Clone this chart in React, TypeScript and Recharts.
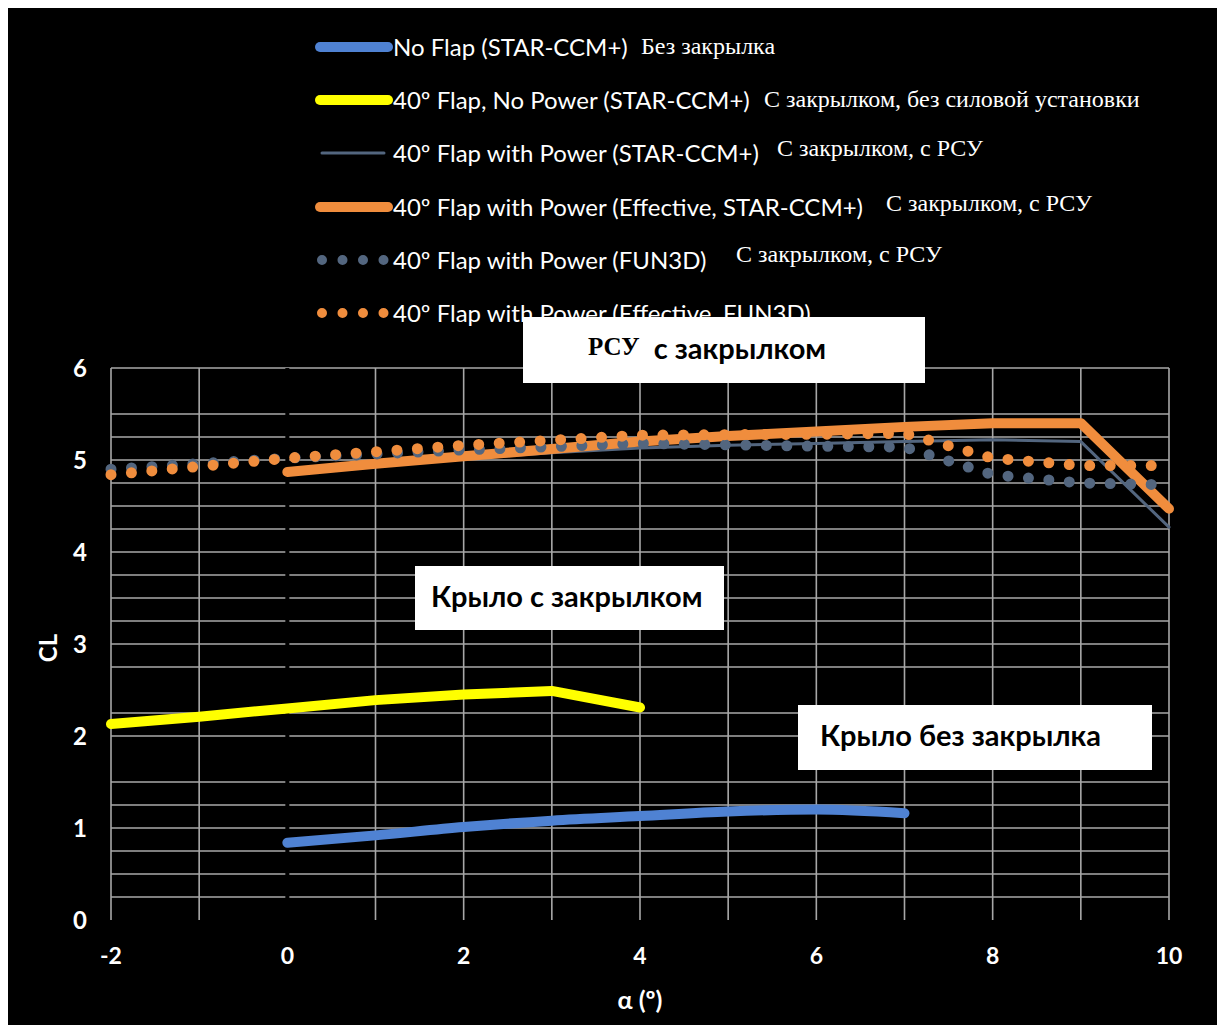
import React from "react";
import { LineChart, Line, XAxis, YAxis, CartesianGrid, ReferenceLine } from "recharts";

// angle of attack (deg) and lift coefficient per series
const alphaNoFlap = [0, 1, 2, 3, 4, 5, 6, 7];
const clNoFlap = [0.84, 0.92, 1.01, 1.08, 1.13, 1.18, 1.2, 1.16];

const alphaFlap = [-2, -1, 0, 1, 2, 3, 4];
const clFlap = [2.13, 2.21, 2.3, 2.39, 2.45, 2.49, 2.31];

const alphaStar = [0, 1, 2, 3, 4, 5, 6, 7, 8, 9, 10];
const clPowerStar = [4.86, 4.94, 5.01, 5.08, 5.13, 5.16, 5.18, 5.2, 5.22, 5.2, 4.27];
const clEffStar = [4.87, 4.96, 5.04, 5.12, 5.2, 5.26, 5.31, 5.36, 5.4, 5.4, 4.47];

const alphaFun3d = [-2, 0, 2, 4, 6, 7, 8, 9, 10];
const clPowerFun3d = [4.9, 5.02, 5.11, 5.18, 5.15, 5.14, 4.84, 4.75, 4.73];
const clEffFun3d = [4.84, 5.02, 5.16, 5.27, 5.28, 5.29, 5.02, 4.94, 4.94];

const xTicks = [-2, 0, 2, 4, 6, 8, 10];
const yTicks = [0, 1, 2, 3, 4, 5, 6];

const seriesNames = [
  "No Flap (STAR-CCM+)",
  "40º Flap, No Power (STAR-CCM+)",
  "40º Flap with Power (STAR-CCM+)",
  "40º Flap with Power (Effective, STAR-CCM+)",
  "40º Flap with Power (FUN3D)",
  "40º Flap with Power (Effective, FUN3D)",
];
const seriesNotes = [
  "Без закрылка",
  "С закрылком, без силовой установки",
  "С закрылком, с РСУ",
  "С закрылком, с РСУ",
  "С закрылком, с РСУ",
  "",
];

const toPoints = (xs: number[], ys: number[]) => xs.map((a, i) => ({ alpha: a, cl: ys[i] }));

const BLUE = "#4f82d3";
const YELLOW = "#ffff00";
const SLATE = "#53667f";
const ORANGE = "#f08d3d";
const GRID = "#a8a8a8";

const series = [
  { data: toPoints(alphaNoFlap, clNoFlap), color: BLUE, width: 10, dotted: false, smooth: true },
  { data: toPoints(alphaFlap, clFlap), color: YELLOW, width: 10, dotted: false, smooth: false },
  { data: toPoints(alphaStar, clPowerStar), color: SLATE, width: 3, dotted: false, smooth: false },
  { data: toPoints(alphaStar, clEffStar), color: ORANGE, width: 10, dotted: false, smooth: false },
  { data: toPoints(alphaFun3d, clPowerFun3d), color: SLATE, width: 11, dotted: true, smooth: false },
  { data: toPoints(alphaFun3d, clEffFun3d), color: ORANGE, width: 11, dotted: true, smooth: false },
];

// x offset of the russian note for each legend row, and its vertical nudge
const noteLeft = [633, 756, 769, 878, 728, 0];
const noteNudge = [0, 0, -4, -3, -5, 0];

const gridY = Array.from({ length: 24 }, (_, i) => (i + 1) * 0.25);
const gridX = [-2, -1, 0, 1, 2, 3, 4, 5, 6, 7, 8, 9, 10];

const sans = "Lato, 'Open Sans', sans-serif";
const serif = "'Liberation Serif', 'DejaVu Serif', serif";

function LegendSwatch({ color, width, dotted }: { color: string; width: number; dotted: boolean }) {
  return (
    <svg width={80} height={16} style={{ position: "absolute", left: 0, top: -8 }}>
      {dotted ? (
        <line x1={8} y1={8} x2={72} y2={8} stroke={color} strokeWidth={10} strokeLinecap="round" strokeDasharray="0 20.5" />
      ) : (
        <line x1={width > 5 ? 6 : 8} y1={8} x2={width > 5 ? 74 : 70} y2={8} stroke={color} strokeWidth={width} strokeLinecap="round" />
      )}
    </svg>
  );
}

function AnnotationBox({ left, top, w, h, pad, children }: any) {
  return (
    <div
      style={{
        position: "absolute",
        left,
        top,
        width: w,
        height: h,
        background: "#fff",
        display: "flex",
        alignItems: "center",
        paddingLeft: pad,
        paddingBottom: 6,
        boxSizing: "border-box",
        color: "#000",
        fontFamily: sans,
        fontWeight: 700,
        fontSize: 29,
        whiteSpace: "nowrap",
      }}
    >
      {children}
    </div>
  );
}

export default function App() {
  return (
    <div style={{ position: "relative", width: 1209, height: 1017, background: "#000", overflow: "hidden" }}>
      <LineChart width={1209} height={1017} margin={{ top: 360, right: 48, bottom: 45, left: 43 }}>
        <CartesianGrid stroke={GRID} strokeWidth={1.6} horizontalValues={gridY} verticalValues={gridX} />
        <XAxis
          dataKey="alpha"
          type="number"
          domain={[-2, 10]}
          ticks={xTicks}
          allowDuplicatedCategory={false}
          axisLine={false}
          tickLine={false}
          tickSize={0}
          tickMargin={28}
          height={60}
          tick={{ fill: "#fff", fontSize: 23, fontWeight: 700, fontFamily: sans }}
        />
        <YAxis
          type="number"
          domain={[0, 6]}
          ticks={yTicks}
          axisLine={false}
          tickLine={false}
          tickSize={0}
          tickMargin={24}
          width={60}
          tick={{ fill: "#fff", fontSize: 24, fontWeight: 700, fontFamily: sans }}
        />
        <ReferenceLine x={0} stroke="#000" strokeWidth={4} />
        {series.map((s, i) => (
          <Line
            key={i}
            data={s.data}
            dataKey="cl"
            type={s.smooth ? "monotone" : "linear"}
            stroke={s.color}
            strokeWidth={s.width}
            strokeLinecap="round"
            strokeLinejoin="round"
            strokeDasharray={s.dotted ? "0 20.5" : undefined}
            dot={false}
            activeDot={false}
            isAnimationActive={false}
          />
        ))}
      </LineChart>

      {/* legend */}
      {seriesNames.map((name, i) => {
        const s = series[i];
        const cy = 39 + i * 53.2;
        return (
          <React.Fragment key={name}>
            <div style={{ position: "absolute", left: 306, top: cy }}>
              <LegendSwatch color={s.color} width={s.width} dotted={s.dotted} />
            </div>
            <div
              style={{
                position: "absolute",
                left: 385,
                top: cy - 16,
                color: "#fff",
                fontFamily: sans,
                fontSize: 24,
                lineHeight: "32px",
                whiteSpace: "nowrap",
              }}
            >
              {name}
            </div>
            {seriesNotes[i] && (
              <div
                style={{
                  position: "absolute",
                  left: noteLeft[i],
                  top: cy - 17 + noteNudge[i],
                  color: "#fff",
                  fontFamily: serif,
                  fontSize: 24,
                  lineHeight: "32px",
                  whiteSpace: "nowrap",
                }}
              >
                {seriesNotes[i]}
              </div>
            )}
          </React.Fragment>
        );
      })}

      {/* axis titles */}
      <div
        style={{
          position: "absolute",
          left: 632,
          top: 991,
          transform: "translate(-50%, -50%)",
          color: "#fff",
          fontFamily: sans,
          fontWeight: 700,
          fontSize: 25,
          whiteSpace: "nowrap",
        }}
      >
        α (º)
      </div>
      <div
        style={{
          position: "absolute",
          left: 39,
          top: 640,
          transform: "translate(-50%, -50%) rotate(-90deg)",
          color: "#fff",
          fontFamily: sans,
          fontWeight: 700,
          fontSize: 24,
          whiteSpace: "nowrap",
        }}
      >
        CL
      </div>

      {/* region labels */}
      <AnnotationBox left={515} top={309} w={402} h={66} pad={65}>
        <span style={{ fontFamily: serif, fontSize: 25 }}>РСУ</span>
        <span style={{ marginLeft: 14 }}>с закрылком</span>
      </AnnotationBox>
      <AnnotationBox left={407} top={558} w={309} h={64} pad={16}>
        Крыло с закрылком
      </AnnotationBox>
      <AnnotationBox left={790} top={697} w={354} h={65} pad={22}>
        Крыло без закрылка
      </AnnotationBox>
    </div>
  );
}
